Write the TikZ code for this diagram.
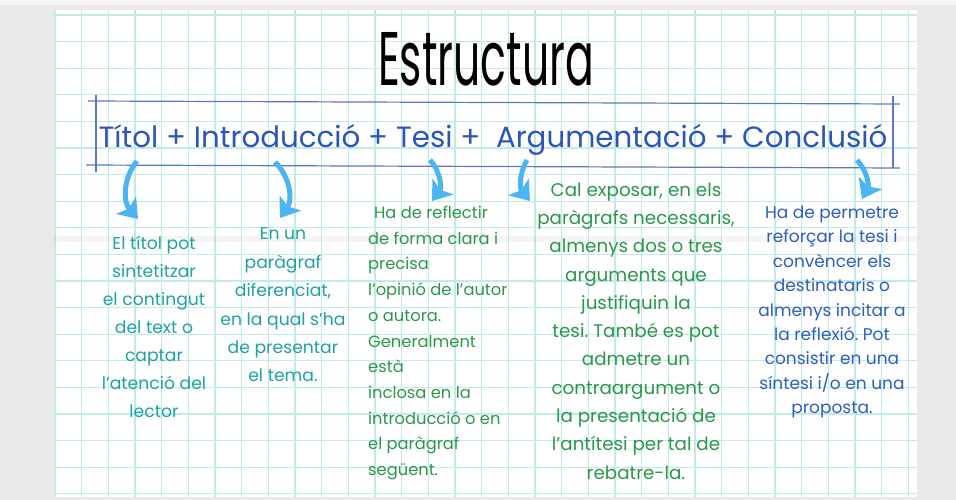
\documentclass[tikz,border=0pt]{standalone}
\usepackage{fontspec}
\setmainfont{Poppins}
\usetikzlibrary{arrows.meta}
\frenchspacing
\definecolor{bggray}{HTML}{E9E9E9}
\definecolor{gridcyan}{HTML}{C2EBE7}
\definecolor{frameblue}{HTML}{5A78C8}
\definecolor{headblue}{HTML}{2B55B8}
\definecolor{arrowblue}{HTML}{4DB4F2}
\definecolor{tealtxt}{HTML}{1FA2A4}
\definecolor{greentxt}{HTML}{2A984A}
\definecolor{bluetxt}{HTML}{2C5FC2}

\begin{document}
\begin{tikzpicture}
[x=1pt,y=-1pt,
 grid/.style={draw=gridcyan,line width=1.3pt},
 frame/.style={draw=frameblue,line width=1.2pt},
 arr/.style={draw=arrowblue,line width=5pt,-{Stealth[length=18pt,width=26pt,inset=4pt]}},
 txt/.style={align=center,inner sep=0pt}]
\useasboundingbox (0,0) rectangle (956,500);
\fill[bggray] (0,0) rectangle (956,500);
\fill[white!96!black] (0,0) rectangle (956,5);
\fill[white] (54,10) rectangle (917,497);
\begin{scope}
\clip (54,10) rectangle (917,497);
\foreach \i in {0,...,33}
\draw[grid] (55+26.67*\i,10) -- (55+26.67*\i,497);
\foreach \j in {0,...,18}
\draw[grid] (54,15+26.6*\j) -- (917,15+26.6*\j);
\fill[black,opacity=.04] (54,236) rectangle (917,242);
\end{scope}
\draw[frame] (88,101) -- (900,104);
\draw[frame] (86,165) -- (900,168);
\draw[frame] (96,95) -- (96,172);
\draw[frame] (893,96) -- (893,168);
\node[font=\fontsize{76}{76}\selectfont,xscale=.56] (title) at (486,59) {Estructura};
\node[font=\fontsize{29.3}{30}\selectfont,text=headblue] (head) at (493,140)
{Títol + Introducció + Tesi +\ \ Argumentació + Conclusió};
\node[txt,text=tealtxt,font=\fontsize{17.2}{28}\selectfont] (titol) at (154,327)
{El títol pot\\sintetitzar\\el contingut\\del text o\\captar\\l'atenció del\\lector};
\node[txt,text=tealtxt,font=\fontsize{17.2}{28.4}\selectfont] (intro) at (283,305)
{En un\\paràgraf\\diferenciat,\\en la qual s'ha\\de presentar\\el tema.};
\node[txt,align=left,anchor=west,text=greentxt,font=\fontsize{16.3}{25.7}\selectfont] (tesi) at (368,343)
{\hspace{6pt}Ha de reflectir\\de forma clara i\\precisa\\l'opinió de l'autor\\o autora.\\Generalment\\està\\inclosa en la\\introducció o en\\el paràgraf\\següent.};
\node[txt,text=greentxt,font=\fontsize{18.3}{28.3}\selectfont] (argum) at (636,331)
{Cal exposar, en els\\paràgrafs necessaris,\\almenys dos o tres\\arguments que\\justifiquin la\\tesi. També es pot\\admetre un\\contraargument o\\la presentació de\\l'antítesi per tal de\\rebatre-la.};
\node[txt,text=bluetxt,font=\fontsize{17}{24.4}\selectfont] (concl) at (832,312)
{Ha de permetre\\reforçar la tesi i\\convèncer els\\destinataris o\\almenys incitar a\\la reflexió. Pot\\consistir en una\\síntesi i/o en una\\proposta.};
\coordinate (s1) at (137,161);
\coordinate (e1) at (138,219);
\coordinate (s2) at (275,162);
\coordinate (e2) at (280,218);
\coordinate (s3) at (430,160);
\coordinate (e3) at (432,201);
\coordinate (s4) at (527,160);
\coordinate (e4) at (530,201);
\coordinate (s5) at (857,160);
\coordinate (e5) at (862,199);
\foreach \from/\to/\ang in {s1/e1/-40,s2/e2/40,s3/e3/40,s4/e4/-35,s5/e5/35}
\draw[arr] (\from) to[bend left=\ang] (\to);
\end{tikzpicture}
\end{document}
